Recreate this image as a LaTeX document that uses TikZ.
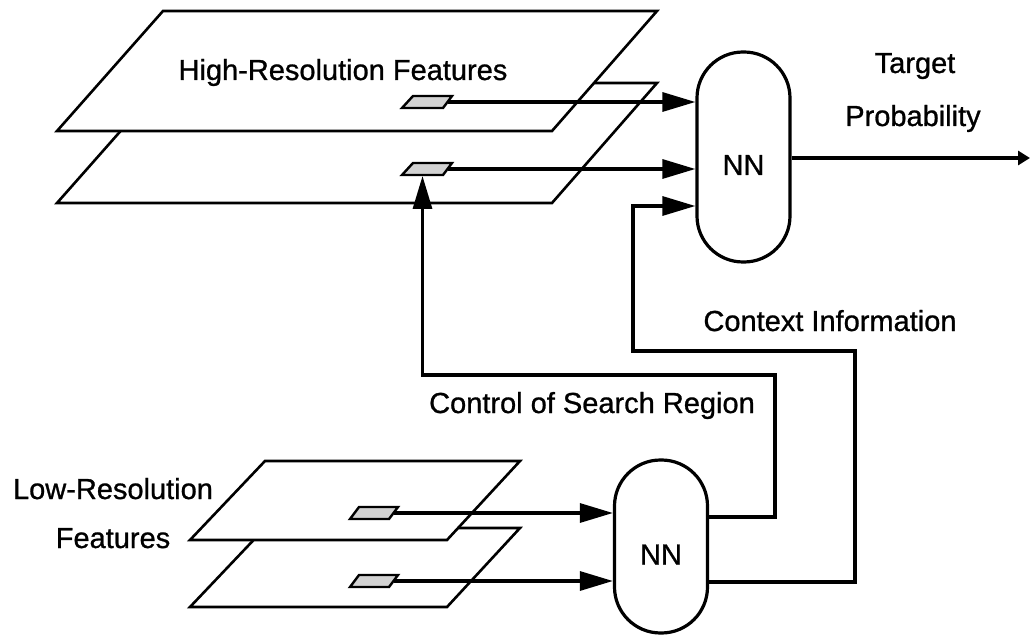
\documentclass[tikz,border=0pt]{standalone}
\usepackage{fontspec}
\setmainfont{Liberation Sans}
\newfontfamily\lblfont{Liberation Sans}[FakeBold=0.9]
\usetikzlibrary{arrows.meta}
\begin{document}
\begin{tikzpicture}[x=1pt,y=-1pt,
 plane/.style={draw, fill=white, line width=2.6pt, line join=miter},
 patchst/.style={draw, fill=gray!35, line width=2.4pt, line join=miter},
 arr/.style={line width=3.2pt, -{Triangle[length=33pt,width=19pt]}},
 smallarr/.style={line width=3.2pt, -{Triangle[length=12pt,width=14pt]}},
 capsule/.style={draw, line width=3.2pt, rounded corners=46pt, minimum width=93pt, inner sep=0pt, text height=36pt, text depth=0pt, font=\lblfont\fontsize{29}{34}\selectfont},
 lbl/.style={font=\lblfont\fontsize{29}{34}\selectfont, anchor=base, inner sep=0pt}]
\useasboundingbox (0,0) rectangle (1031,636);

% high-resolution planes
\draw[plane] (163,83) -- (657,83) -- (552,203) -- (57,203) -- cycle;
\draw[plane] (163,11) -- (657,11) -- (552,131) -- (57,131) -- cycle;
% low-resolution planes
\draw[plane] (265,528) -- (520,528) -- (447,607) -- (190,607) -- cycle;
\draw[plane] (265,461) -- (520,461) -- (447,540) -- (190,540) -- cycle;

% patches
\draw[patchst] (402,108) -- (443,108) -- (452,96) -- (413,96) -- cycle;
\draw[patchst] (402,175) -- (443,175) -- (452,163) -- (413,163) -- cycle;
\draw[patchst] (350,519) -- (389,519) -- (398,507) -- (359,507) -- cycle;
\draw[patchst] (350,587) -- (389,587) -- (398,575) -- (359,575) -- cycle;
\coordinate (hp1) at (447.5,102);
\coordinate (hp2) at (447.5,169);
\coordinate (hp2s) at (422.5,176);
\coordinate (lp1) at (393.5,513);
\coordinate (lp2) at (393.5,581);

% NN units
\node[capsule, minimum height=210pt] (nn) at (743.5,157) {NN};
\node[capsule, minimum height=173pt] (lnn) at (661,546.5) {NN};

% labels
\node[lbl] (hrf) at (343,80) {High-Resolution Features};
\node[lbl] (tg1) at (915,73) {Target};
\node[lbl] (tg2) at (913,126) {Probability};
\node[lbl] (ctx) at (830,331) {Context Information};
\node[lbl] (csr) at (592,413) {Control of Search Region};
\node[lbl] (lr1) at (113,499) {Low-Resolution};
\node[lbl] (lr2) at (113,548) {Features};

% route points
\coordinate (out) at (1030,158);
\coordinate (ctlA) at (775,517);
\coordinate (ctlB) at (775,375);
\coordinate (ctxA) at (855,582);
\coordinate (ctxB) at (633,351);
\coordinate (ctxC) at (633,206);

% connectors
\draw[arr] (hp1) -- (hp1 -| nn.west);
\draw[arr] (hp2) -- (hp2 -| nn.west);
\draw[arr] (lp1) -- (lp1 -| lnn.west);
\draw[arr] (lp2) -- (lp2 -| lnn.west);
\draw[smallarr] (nn.east |- out) -- (out);
\draw[arr] (ctlA -| lnn.east) -- (ctlA) -- (ctlB) -| (hp2s);
\draw[arr] (ctxA -| lnn.east) -- (ctxA) |- (ctxB) -- (ctxC) -- (ctxC -| nn.west);
\end{tikzpicture}
\end{document}
